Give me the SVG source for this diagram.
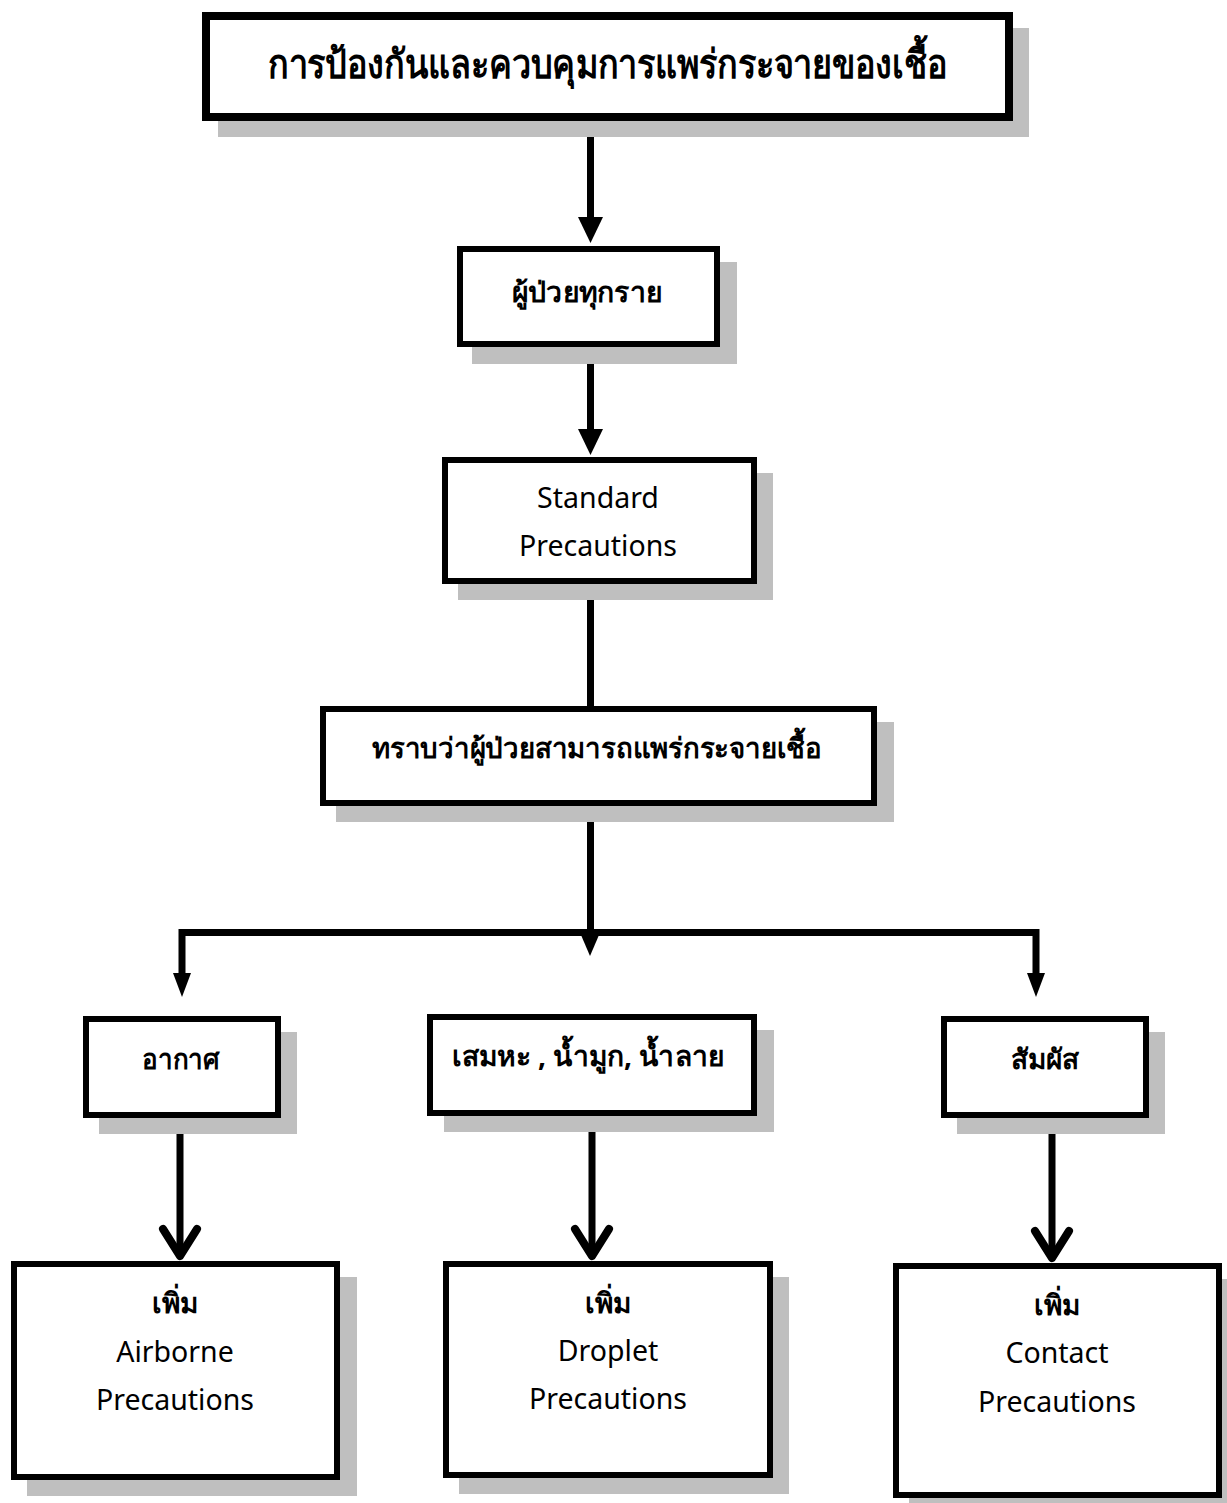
<svg xmlns="http://www.w3.org/2000/svg" width="1227" height="1503" viewBox="0 0 1227 1503">
  <style>
    .shadow { fill: #bfbfbf; }
    .box { fill: #ffffff; stroke: #000000; stroke-width: 6; }
    .box-heavy { fill: #ffffff; stroke: #000000; stroke-width: 8; }
    .th { font-family: "Noto Sans", "DejaVu Sans", sans-serif; font-weight: bold; fill: #000; text-anchor: middle; }
    .en { font-family: "Noto Sans", "Open Sans", sans-serif; font-size: 28.5px; fill: #000; text-anchor: middle; }
    .wire { stroke: #000; stroke-width: 7; fill: none; stroke-linecap: butt; }
    .head { fill: #000; stroke: none; }
    .chev { stroke: #000; stroke-width: 8; fill: none; stroke-linecap: round; stroke-linejoin: round; }
  </style>

  <!-- connectors -->
  <g id="connectors">
    <line class="wire" x1="590.5" y1="121" x2="590.5" y2="220"/>
    <polygon class="head" points="578,217 603,217 590.5,243"/>
    <line class="wire" x1="590.5" y1="347" x2="590.5" y2="432"/>
    <polygon class="head" points="578,429 603,429 590.5,455"/>
    <line class="wire" x1="590.5" y1="584" x2="590.5" y2="707"/>
    <line class="wire" x1="590.5" y1="806" x2="590.5" y2="933"/>
    <path class="wire" d="M182,976 V932.5 H1036 V976"/>
    <polygon class="head" points="173,973 191,973 182,997"/>
    <polygon class="head" points="581,935 599,935 590,956"/>
    <polygon class="head" points="1027,973 1045,973 1036,997"/>
    <line class="wire" x1="180" y1="1118" x2="180" y2="1254"/>
    <path class="chev" d="M163,1229 L180,1256 L197,1229"/>
    <line class="wire" x1="592" y1="1116" x2="592" y2="1254"/>
    <path class="chev" d="M575,1229 L592,1256 L609,1229"/>
    <line class="wire" x1="1052" y1="1118" x2="1052" y2="1256"/>
    <path class="chev" d="M1035,1231 L1052,1258 L1069,1231"/>
  </g>

  <g id="n-title">
    <rect class="shadow" x="218" y="28" width="811" height="109"/>
    <rect class="box-heavy" x="206" y="16" width="803" height="101"/>
    <text class="th" x="608" y="78" font-size="40" textLength="680" lengthAdjust="spacingAndGlyphs">การป้องกันและควบคุมการแพร่กระจายของเชื้อ</text>
  </g>

  <g id="n-all-patients">
    <rect class="shadow" x="472" y="262" width="265" height="102"/>
    <rect class="box" x="460" y="249" width="257" height="95"/>
    <text class="th" x="587" y="302" font-size="28" textLength="150" lengthAdjust="spacingAndGlyphs">ผู้ป่วยทุกราย</text>
  </g>

  <g id="n-standard">
    <rect class="shadow" x="458" y="473" width="315" height="127"/>
    <rect class="box" x="445" y="460" width="309" height="121"/>
    <text class="en" x="598" y="508">Standard</text>
    <text class="en" x="598" y="556">Precautions</text>
  </g>

  <g id="n-known-spreader">
    <rect class="shadow" x="336" y="722" width="558" height="100"/>
    <rect class="box" x="323" y="709" width="551" height="94"/>
    <text class="th" x="597" y="758" font-size="28" textLength="450" lengthAdjust="spacingAndGlyphs">ทราบว่าผู้ป่วยสามารถแพร่กระจายเชื้อ</text>
  </g>

  <g id="n-air">
    <rect class="shadow" x="99" y="1032" width="198" height="102"/>
    <rect class="box" x="86" y="1019" width="192" height="96"/>
    <text class="th" x="181" y="1069" font-size="28" textLength="78" lengthAdjust="spacingAndGlyphs">อากาศ</text>
  </g>

  <g id="n-secretions">
    <rect class="shadow" x="444" y="1030" width="330" height="102"/>
    <rect class="box" x="430" y="1017" width="324" height="96"/>
    <text class="th" x="588" y="1066" font-size="28" textLength="272" lengthAdjust="spacingAndGlyphs">เสมหะ , น้ำมูก, น้ำลาย</text>
  </g>

  <g id="n-touch">
    <rect class="shadow" x="957" y="1032" width="208" height="102"/>
    <rect class="box" x="944" y="1019" width="202" height="96"/>
    <text class="th" x="1045" y="1069" font-size="28" textLength="68" lengthAdjust="spacingAndGlyphs">สัมผัส</text>
  </g>

  <g id="n-airborne">
    <rect class="shadow" x="27" y="1277" width="330" height="219"/>
    <rect class="box" x="14" y="1264" width="323" height="213"/>
    <text class="th" x="175" y="1313" font-size="28">เพิ่ม</text>
    <text class="en" x="175" y="1362">Airborne</text>
    <text class="en" x="175" y="1410">Precautions</text>
  </g>

  <g id="n-droplet">
    <rect class="shadow" x="459" y="1277" width="330" height="217"/>
    <rect class="box" x="446" y="1264" width="324" height="211"/>
    <text class="th" x="608" y="1313" font-size="28">เพิ่ม</text>
    <text class="en" x="608" y="1361">Droplet</text>
    <text class="en" x="608" y="1409">Precautions</text>
  </g>

  <g id="n-contact">
    <rect class="shadow" x="909" y="1279" width="330" height="235"/>
    <rect class="box" x="896" y="1266" width="323" height="229"/>
    <text class="th" x="1057" y="1315" font-size="28">เพิ่ม</text>
    <text class="en" x="1057" y="1363">Contact</text>
    <text class="en" x="1057" y="1412">Precautions</text>
  </g>
</svg>
